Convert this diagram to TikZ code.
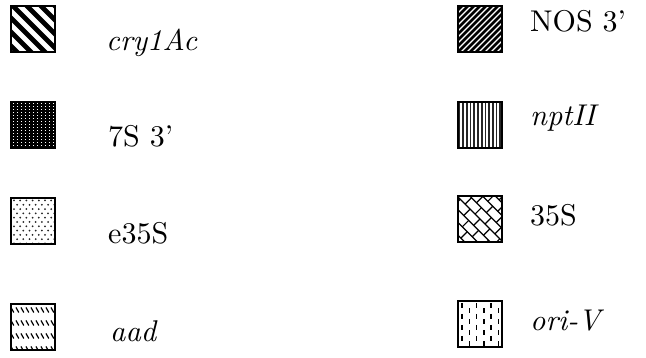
\documentclass[tikz,border=0pt]{standalone}
\usepackage{fontspec}
\setmainfont{lmroman10-regular.otf}[ItalicFont=lmroman10-italic.otf]
\newcommand\keyfill[2]{%
  \begin{scope}
    \clip (#1.north west) rectangle (#1.south east);
    \begin{scope}[shift={(#1.north west)}]
      #2
    \end{scope}
  \end{scope}
  \draw[frame] (#1.north west) rectangle (#1.south east);}
\begin{document}
\begin{tikzpicture}[x=1pt,y=-1pt,
  frame/.style={draw=black,line width=2.4pt},
  keybox/.style={minimum width=44pt,minimum height=46pt,inner sep=0pt,outer sep=0pt,anchor=north west},
  lab/.style={anchor=base west,inner sep=0pt,font=\fontsize{30}{34}\selectfont}]
\useasboundingbox (0,0) rectangle (646,358);

% key boxes, left column
\node[keybox] (cry) at (11,6) {};
\node[keybox] (sev) at (11,102) {};
\node[keybox] (ens) at (11,198) {};
\node[keybox] (aad) at (11,304) {};
% key boxes, right column
\node[keybox] (nos) at (458,6) {};
\node[keybox] (npt) at (458,102) {};
\node[keybox] (pro) at (458,196) {};
\node[keybox] (ori) at (458,301) {};

% wide diagonal stripes
\keyfill{cry}{\foreach \c in {-56,-42,...,56} \draw[line width=4.8pt] (\c,-2) -- ++(52,52);}
% black with a grid of white dots
\keyfill{sev}{\fill (0,0) rectangle (44,46);
  \foreach \i in {0,...,10} \foreach \j in {0,...,15}
    \fill[white] (1.8+\i*4,1.4+\j*3) rectangle ++(1.2,1.0);}
% sparse dots
\keyfill{ens}{\foreach \j in {0,...,10} \foreach \i in {0,...,7}
    \fill[black!85] ({3+\i*6.2+mod(\j,2)*3.1},{2.5+\j*4.3}) circle (1.0);}
% rows of short slanted dashes
\keyfill{aad}{\foreach \y in {6,19,32,45} \foreach \x in {0,5,...,45}
    \draw[line width=1.2pt] (\x,\y-2.5) -- ++(2.8,5);}
% fine diagonal stripes
\keyfill{nos}{\foreach \c in {0,6,...,102} \draw[line width=2.5pt] (\c,-2) -- ++(-52,52);}
% vertical lines
\keyfill{npt}{\foreach \x in {1.5,5.2,...,44} \draw[black!85,line width=1.7pt] (\x,0) -- (\x,46);}
% diagonal brickwork
\keyfill{pro}{\begin{scope}[shift={(22,23)},rotate=-45,line width=1.2pt]
  \foreach \r [evaluate=\r as \off using {mod(abs(\r),2)*7}] in {-4,...,4} {
    \draw (-40,\r*9) -- (40,\r*9);
    \foreach \q in {-3,...,3} \draw (\q*14+\off,\r*9) -- ++(0,9);}
  \end{scope}}
% staggered vertical dashes
\keyfill{ori}{\foreach \i in {0,...,5} \foreach \j in {-1,...,4}
    \draw[line width=1.6pt] ({4+\i*7.3},{\j*11+mod(\i,2)*5.5+2}) -- ++(0,5);}

% labels
\node[lab] (tcry) at (106,51) {\textit{cry1Ac}};
\node[lab] (tsev) at (108,147) {7S 3'};
\node[lab] (tens) at (108,244) {e35S};
\node[lab] (taad) at (110,342) {\textit{aad}};
\node[lab] (tnos) at (530,32) {NOS 3'};
\node[lab] (tnpt) at (530,126) {\textit{nptII}};
\node[lab] (tpro) at (530,226) {35S};
\node[lab] (tori) at (530,331) {\textit{ori-V}};
\end{tikzpicture}
\end{document}
